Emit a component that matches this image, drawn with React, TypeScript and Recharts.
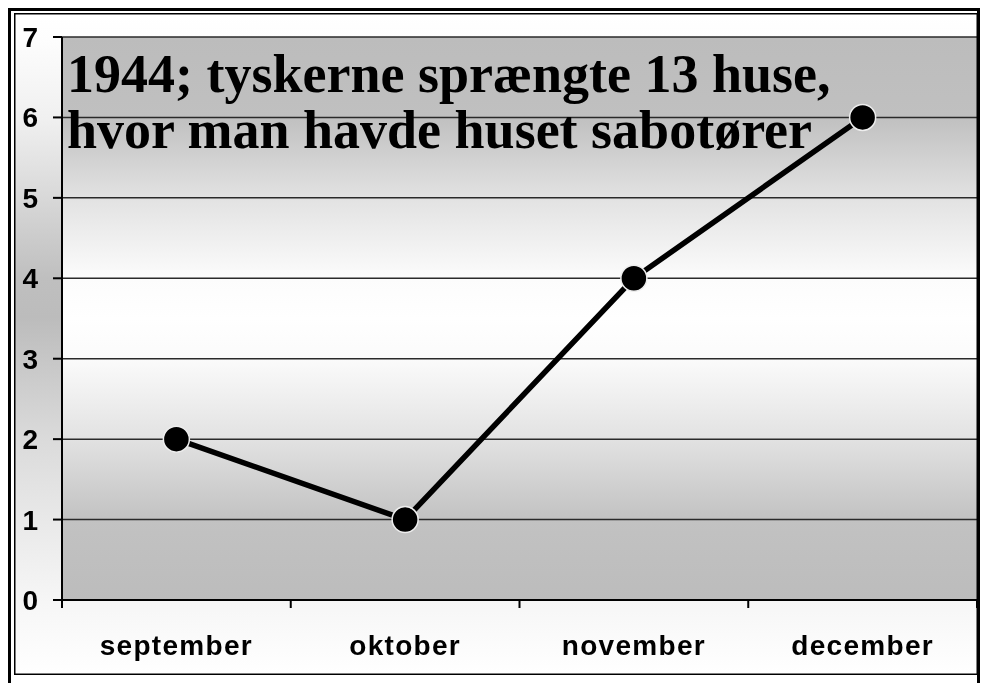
import React from "react";
import { LineChart, Line, XAxis, YAxis, CartesianGrid } from "recharts";

// Måneder og antal sprængte huse i 1944
const months = ["september", "oktober", "november", "december"];
const houses = [2, 1, 4, 6];
const yTicks = [0, 1, 2, 3, 4, 5, 6, 7];
const titleLines = ["1944; tyskerne sprængte 13 huse,", "hvor man havde huset sabotører"];

const data = months.map((month, i) => ({ month, houses: houses[i] }));

// kategori-etiket med tick-streger på grænserne mellem månederne
const MonthTick = (props: any) => {
  const { x, y, payload, index } = props;
  const half = payload && payload.offset ? payload.offset : 0;
  return (
    <g>
      <line x1={x - half} x2={x - half} y1={y} y2={y + 8} stroke="#000" strokeWidth={2} />
      {index === months.length - 1 && (
        <line x1={x + half} x2={x + half} y1={y} y2={y + 8} stroke="#000" strokeWidth={2} />
      )}
      <text
        x={x}
        y={y + 35}
        dy="0.71em"
        textAnchor="middle"
        fill="#000"
        fontSize={28}
        letterSpacing={1.3}
        fontWeight="bold"
        fontFamily="Liberation Sans, Arial, sans-serif"
      >
        {payload.value}
      </text>
    </g>
  );
};

// baggrund i rammen: lys top og bund, grå midte
const frameStops: [number, string][] = [
  [0, "#ffffff"], [0.04, "#fdfdfd"], [0.16, "#f0f0f0"], [0.28, "#d8d8d8"], [0.4, "#bfbfbf"],
  [0.46, "#bcbcbc"], [0.52, "#c6c6c6"], [0.64, "#dadada"], [0.76, "#e8e8e8"], [0.89, "#f6f6f6"], [1, "#ffffff"],
];

const App: React.FC = () => {
  return (
    <div style={{ position: "absolute", left: 0, top: 0, width: 983, height: 683, background: "#fff", overflow: "hidden" }}>
      <div style={{ position: "absolute", left: 0, top: 0 }}>
        <LineChart width={983} height={683} data={data} margin={{ top: 37, right: 6, bottom: 43, left: 0 }}>
          <defs>
            <linearGradient id="plotBg" x1="0" y1="0" x2="0" y2="1">
              <stop offset="0" stopColor="#bcbcbc" />
              <stop offset="0.143" stopColor="#c0c0c0" />
              <stop offset="0.286" stopColor="#e2e2e2" />
              <stop offset="0.43" stopColor="#fcfcfc" />
              <stop offset="0.5" stopColor="#ffffff" />
              <stop offset="0.57" stopColor="#fbfbfb" />
              <stop offset="0.714" stopColor="#e2e2e2" />
              <stop offset="0.857" stopColor="#c2c2c2" />
              <stop offset="1" stopColor="#bcbcbc" />
            </linearGradient>
          </defs>
          <CartesianGrid vertical={false} stroke="#2a2a2a" strokeWidth={1.5} fill="url(#plotBg)" fillOpacity={1} />
          <XAxis
            dataKey="month"
            scale="band"
            tickLine={false}
            tickSize={0}
            tickMargin={0}
            height={40}
            interval={0}
            stroke="#000"
            strokeWidth={2}
            tick={<MonthTick />}
          />
          <YAxis
            domain={[0, 7]}
            ticks={yTicks}
            width={62}
            tickSize={9}
            tickMargin={15}
            stroke="#000"
            strokeWidth={2}
            tick={{ fill: "#000", fontSize: 28, fontWeight: "bold", fontFamily: "Liberation Sans, Arial, sans-serif" }}
          />
          <Line
            dataKey="houses"
            stroke="#000"
            strokeWidth={5.5}
            isAnimationActive={false}
            dot={{ r: 13, fill: "#000", stroke: "#eee", strokeWidth: 1.5 }}
          />
        </LineChart>
      </div>

      {/* rammens baggrund lægges ovenpå med multiply, uden om plotområdet */}
      <svg width={983} height={683} style={{ position: "absolute", left: 0, top: 0, pointerEvents: "none", mixBlendMode: "multiply" }}>
        <defs>
          <linearGradient id="frameBg" gradientUnits="userSpaceOnUse" x1="0" y1="13" x2="0" y2="675">
            {frameStops.map(([o, c]) => (
              <stop key={o} offset={o} stopColor={c} />
            ))}
          </linearGradient>
        </defs>
        <path d="M15,14 H977 V674 H15 Z M62,37 V600 H977 V37 Z" fillRule="evenodd" fill="url(#frameBg)" />
      </svg>

      <svg width={983} height={683} style={{ position: "absolute", left: 0, top: 0, pointerEvents: "none" }}>
        {/* ydre og indre ramme */}
        <rect x={9.5} y={9.5} width={969} height={690} fill="none" stroke="#000" strokeWidth={3} />
        <rect x={14.75} y={13.75} width={962.5} height={660.5} fill="none" stroke="#000" strokeWidth={1.5} />
        {titleLines.map((line, i) => (
          <text
            key={line}
            x={67}
            y={92 + i * 56}
            fontFamily="Liberation Serif, Times New Roman, serif"
            fontWeight="bold"
            fontSize={54}
            fill="#000"
          >
            {line}
          </text>
        ))}
      </svg>
    </div>
  );
};

export default App;
